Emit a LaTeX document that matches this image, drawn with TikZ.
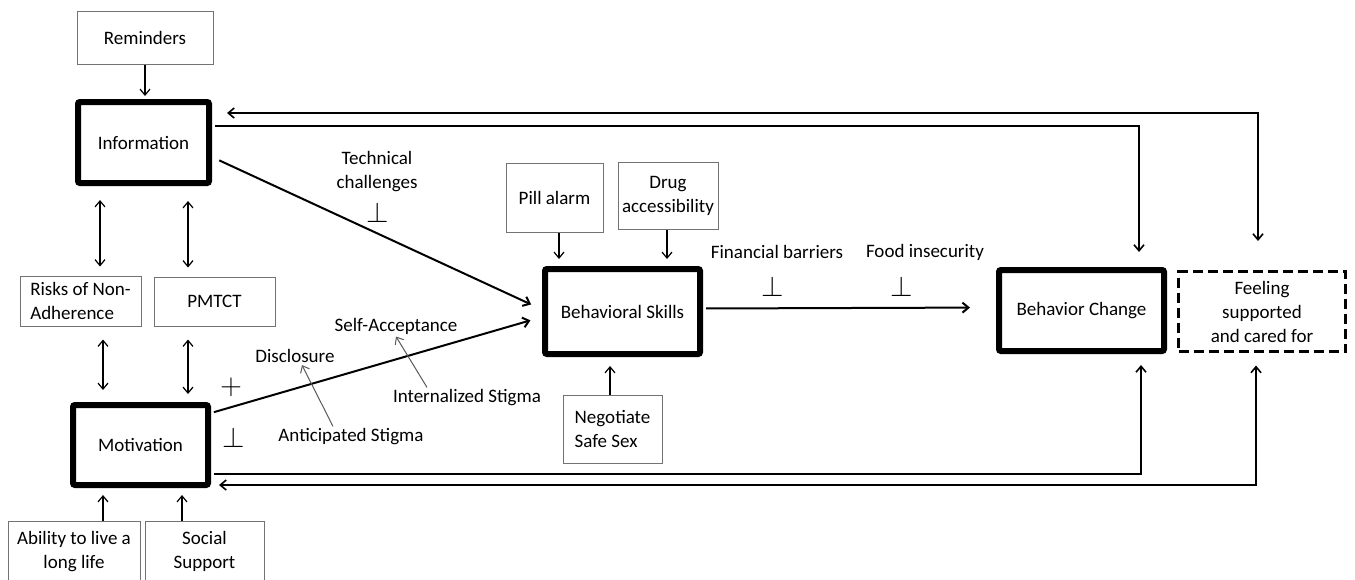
\documentclass[tikz,border=0pt]{standalone}
\usepackage{fontspec}
\setmainfont{Carlito}
\usetikzlibrary{arrows.meta}

\begin{document}
\begin{tikzpicture}[x=0.5pt, y=-0.5pt, >={Straight Barb[length=3pt,width=5pt]},
	font=\fontsize{9.5}{12}\selectfont, every node/.append style={align=center},
	thinbox/.style={draw=black!55, line width=0.5pt, inner sep=1pt},
	thickbox/.style={draw, line width=3pt, rounded corners=1pt, inner sep=1pt},
	dashbox/.style={draw, line width=1.5pt, dash pattern=on 5pt off 2.5pt, inner sep=1pt},
	link/.style={->, line width=0.6pt},
	mainlink/.style={->, line width=1pt},
	loop/.style={->, line width=0.8pt},
	stigma/.style={->, draw=black!65, line width=0.5pt},
	lbl/.style={inner sep=1pt},
	sym/.style={font=\fontsize{15}{15}\selectfont, inner sep=0pt}]
	\useasboundingbox (0,0) rectangle (1355,579);

	% boxes
	\node[thinbox, minimum width=68pt, minimum height=26.5pt] (rem) at (145,37.5) {Reminders};
	\node[thickbox, minimum width=65.5pt, minimum height=40.5pt] (info) at (143.5,142.5) {Information};
	\node[thinbox, align=left, minimum width=60.5pt, minimum height=25pt] (risks) at (80.5,301) {Risks of Non-\\Adherence};
	\node[thinbox, minimum width=60.5pt, minimum height=24.5pt] (pmtct) at (214.5,301.5) {PMTCT};
	\node[thickbox, minimum width=67.5pt, minimum height=40pt] (moti) at (140.5,445) {Motivation};
	\node[thinbox, minimum width=66pt, minimum height=30.5pt] (able) at (74,551.5) {Ability to live a\\long life};
	\node[thinbox, minimum width=59.5pt, minimum height=30.5pt] (soc) at (204.5,551.5) {Social\\Support};
	\node[thinbox, minimum width=48.5pt, minimum height=34.5pt] (pill) at (554.5,197.5) {Pill alarm};
	\node[thinbox, minimum width=50pt, minimum height=33.5pt] (drug) at (668,195.5) {Drug\\accessibility};
	\node[thickbox, minimum width=77.5pt, minimum height=42.5pt] (skills) at (622.5,311.5) {Behavioral Skills};
	\node[thinbox, align=left, minimum width=49.5pt, minimum height=34pt] (nego) at (612.5,429) {Negotiate\\Safe Sex};
	\node[thickbox, minimum width=82.5pt, minimum height=40.5pt] (change) at (1081.5,310.5) {Behavior Change};
	\node[dashbox, minimum width=83.5pt, minimum height=40pt] (feel) at (1262,311.5) {Feeling\\supported\\and cared for};

	% labels
	\node[lbl] (tech) at (377,172) {Technical\\challenges};
	\node[sym] (techbar) at (378,212) {$\perp$};
	\node[lbl] (money) at (777,252) {Financial barriers};
	\node[sym] (moneybar) at (773,286) {$\perp$};
	\node[lbl] (food) at (925,252) {Food insecurity};
	\node[sym] (foodbar) at (902,286) {$\perp$};
	\node[lbl] (accept) at (396,326) {Self-Acceptance};
	\node[lbl] (disc) at (295,356) {Disclosure};
	\node[lbl] (intern) at (467,398) {Internalized Stigma};
	\node[lbl] (antic) at (351,437) {Anticipated Stigma};
	\node[sym] (plus) at (231,387) {$+$};
	\node[sym] (minus) at (234,437) {$\perp$};

	% inputs
	\draw[link, shorten >=1.5pt] (rem.south) -- (rem.south |- info.north);
	\draw[link, <->, shorten <=7pt, shorten >=4.5pt] ([xshift=12.5pt]info.south west) -- ([xshift=12.5pt]info.south west |- risks.north);
	\draw[link, <->, shorten <=7.5pt, shorten >=4.5pt] ([xshift=-12pt]info.south east) -- ([xshift=-12pt]info.south east |- pmtct.north);
	\draw[link, <->, shorten <=6.5pt, shorten >=6pt] ([xshift=11.25pt]risks.south) -- ([xshift=11.25pt]risks.south |- moti.north);
	\draw[link, <->, shorten <=6.5pt, shorten >=4pt] ([xshift=-13.25pt]pmtct.south) -- ([xshift=-13.25pt]pmtct.south |- moti.north);
	\draw[link, shorten >=3.5pt] ([xshift=14.5pt]able.north) -- ([xshift=14.5pt]able.north |- moti.south);
	\draw[link, shorten >=3.5pt] ([xshift=-11.25pt]soc.north) -- ([xshift=-11.25pt]soc.north |- moti.south);
	\draw[link, shorten >=3.5pt] ([xshift=2.25pt]pill.south) -- ([xshift=2.25pt]pill.south |- skills.north);
	\draw[link, shorten >=3.5pt] ([xshift=-0.5pt]drug.south) -- ([xshift=-0.5pt]drug.south |- skills.north);
	\draw[link, shorten >=4.5pt] ([xshift=-1.25pt]nego.north) -- ([xshift=-1.25pt]nego.north |- skills.south);

	% main paths
	\draw[mainlink, shorten <=4pt, shorten >=6pt] ([yshift=-7.25pt]info.east) -- ([yshift=1pt]skills.west);
	\draw[mainlink, shorten <=1.5pt, shorten >=6pt] ([yshift=16pt]moti.east) -- ([yshift=-2.75pt]skills.west);
	\draw[mainlink, shorten <=1.5pt, shorten >=13pt] ([yshift=1.5pt]skills.east) -- ([yshift=1.5pt]change.west);
	\draw[stigma] ([xshift=-9pt]antic.north) -- ([xshift=3.5pt]disc.south);
	\draw[stigma] ([xshift=-20pt]intern.north) -- (accept.south);

	% feedback loops
	\draw[loop, shorten <=1.5pt, shorten >=7.5pt] ([yshift=8.25pt]info.east) -| ([xshift=28.75pt]change.north);
	\draw[loop, <->, shorten <=7.5pt, shorten >=14.5pt] ([yshift=14.75pt]info.east) -| ([xshift=-2pt]feel.north);
	\draw[loop, shorten <=1.5pt, shorten >=5.5pt] ([yshift=-14.5pt]moti.east) -| ([xshift=29.75pt]change.south);
	\draw[loop, <->, shorten <=6.25pt, shorten >=4pt] ([xshift=-3pt]feel.south) |- ([yshift=-20pt]moti.east);
\end{tikzpicture}
\end{document}
